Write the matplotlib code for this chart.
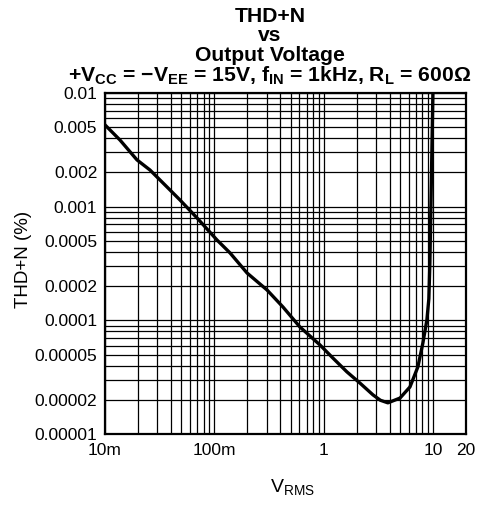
import matplotlib
matplotlib.use("Agg")
import matplotlib.pyplot as plt
import numpy as np
from matplotlib.ticker import FixedLocator, FixedFormatter, LogLocator, NullFormatter

plt.rcParams["font.family"] = ["Liberation Sans", "DejaVu Sans"]

# curve (Vrms, THD+N %)
vrms = [0.01, 0.0137, 0.0196, 0.0258, 0.0369, 0.0485, 0.0694, 0.1057, 0.139, 0.199,
        0.303, 0.424, 0.605, 0.923, 1.21, 1.63, 2.14, 2.82, 3.3, 3.86, 4.98,
        6.14, 7.26, 8.07, 8.78, 9.15, 9.35, 9.55, 9.75, 9.96]
thdn = [0.00524, 0.00386, 0.00258, 0.00210, 0.00149, 0.001145, 0.000796, 0.000509,
        0.000392, 0.000261, 0.000185, 0.000131, 0.0000875, 0.0000608, 0.0000467,
        0.0000352, 0.0000281, 0.0000221, 0.0000198, 0.0000188, 0.0000207,
        0.0000259, 0.0000389, 0.0000632, 0.000101, 0.000155, 0.00032, 0.000975,
        0.0031, 0.01]

x_ticks = [0.01, 0.1, 1, 10, 20]
x_labels = ["10m", "100m", "1", "10", "20"]
y_ticks = [0.00001, 0.00002, 0.00005, 0.0001, 0.0002, 0.0005, 0.001, 0.002, 0.005, 0.01]
y_labels = ["0.00001", "0.00002", "0.00005", "0.0001", "0.0002", "0.0005",
            "0.001", "0.002", "0.005", "0.01"]

W, H = 483, 508
fig = plt.figure(figsize=(W / 100, H / 100), dpi=100)
ax = fig.add_axes([105 / W, 1 - 434 / H, 361 / W, 341 / H])

ax.plot(vrms, thdn, color="black", lw=2.4, solid_capstyle="round",
        solid_joinstyle="round", zorder=3)

ax.set_xscale("log")
ax.set_yscale("log")
ax.set_xlim(0.01, 20)
ax.set_ylim(0.00001, 0.01)

ax.xaxis.set_major_locator(FixedLocator(x_ticks))
ax.xaxis.set_major_formatter(FixedFormatter(x_labels))
ax.xaxis.set_minor_locator(LogLocator(base=10, subs=np.arange(2, 10)))
ax.xaxis.set_minor_formatter(NullFormatter())
ax.yaxis.set_major_locator(FixedLocator(y_ticks))
ax.yaxis.set_major_formatter(FixedFormatter(y_labels))
ax.yaxis.set_minor_locator(LogLocator(base=10, subs=np.arange(2, 10)))
ax.yaxis.set_minor_formatter(NullFormatter())

ax.grid(True, which="both", color="black", lw=0.9)
ax.tick_params(which="both", length=0, labelsize=12.5)
ax.tick_params(axis="x", pad=6.5)
ax.tick_params(axis="y", pad=5.5)
for s in ax.spines.values():
    s.set_linewidth(1.6)

fig.text(24 / W, 1 - 259 / H, "THD+N (%)", rotation=90, ha="center", va="center",
         fontsize=13.5)
fig.text(292 / W, 1 - 488 / H, "V$_{\\mathregular{RMS}}$", ha="center", va="center",
         fontsize=14)

cx = 270 / W
title_kw = dict(ha="center", va="baseline", fontsize=15.2, fontweight="bold")
fig.text(cx, 1 - 22 / H, "THD+N", **title_kw)
fig.text(cx, 1 - 41 / H, "vs", **title_kw)
fig.text(cx, 1 - 61 / H, "Output Voltage", **title_kw)
fig.text(cx, 1 - 81 / H,
         "+V$_{\\mathregular{CC}}$ = \u2212V$_{\\mathregular{EE}}$ = 15V, f$_{\\mathregular{IN}}$ = 1kHz, "
         "R$_{\\mathregular{L}}$ = 600\u03a9", **title_kw)

fig.savefig("out.png", dpi=100)
